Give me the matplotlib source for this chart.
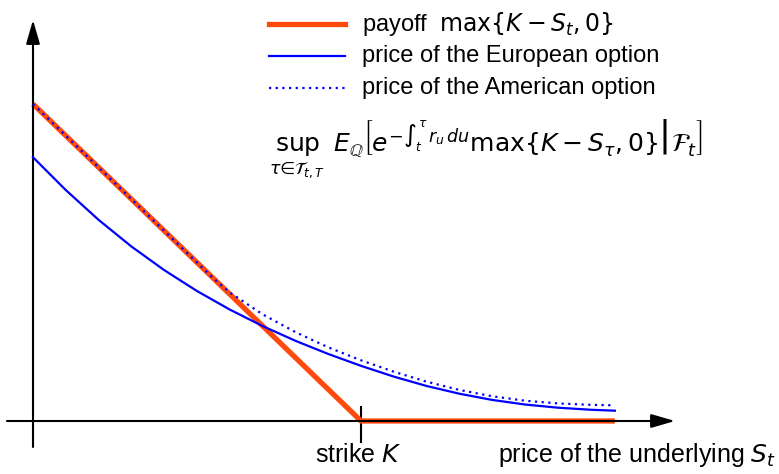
import matplotlib
matplotlib.use("Agg")
import matplotlib.pyplot as plt
from matplotlib.lines import Line2D

plt.rcParams.update(
    {
        "font.family": ["Liberation Sans", "DejaVu Sans"],
        "mathtext.fontset": "dejavusans",
        "font.size": 17,
    }
)

strike = 100.0

# payoff max{K - S, 0}
payoff_s = [0.0, strike, 177.4]
payoff_v = [100.0, 0.0, 0.0]

# European put price
euro_s = [0, 10, 20, 30, 40, 50, 60, 70, 80, 90, 100, 110, 120, 130, 140,
          150, 160, 170, 177.4]
euro_v = [83.2, 72.85, 63.45, 55.05, 47.6, 41.0, 35.15, 29.95, 25.3, 21.15,
          17.4, 14.0, 11.05, 8.6, 6.65, 5.2, 4.2, 3.55, 3.25]

# American put price (equals the payoff below the exercise boundary)
amer_s = [0, 30, 55, 60, 70, 80, 90, 100, 110, 120, 130, 140, 150, 160, 170,
          177.4]
amer_v = [100.0, 70.0, 45.0, 40.55, 33.65, 28.05, 23.25, 19.15, 15.55, 12.4,
          9.8, 7.8, 6.4, 5.55, 5.1, 4.95]

W, H = 779, 474
# pixel layout of the data frame: origin and scale
x0_px, y0_px = 33.0, 421.0
sx, sy = 3.28, 3.17


def fx(px):
    return px / W


def fy(py):
    return 1 - py / H


fig = plt.figure(figsize=(W / 100, H / 100), dpi=100)
ax = fig.add_axes([0, 0, 1, 1])
ax.set_xlim(-x0_px / sx, (W - x0_px) / sx)
ax.set_ylim(-(H - y0_px) / sy, y0_px / sy)
ax.axis("off")

# coordinate axes with arrow heads
arrow = dict(arrowstyle="-|>,head_length=1.45,head_width=0.42", mutation_scale=10,
             lw=1.5, color="black", shrinkA=0, shrinkB=0)
ax.annotate("", xy=((675 - x0_px) / sx, 0), xytext=((7 - x0_px) / sx, 0),
            arrowprops=arrow)
ax.annotate("", xy=(0, (y0_px - 20) / sy), xytext=(0, (y0_px - 447) / sy),
            arrowprops=arrow)
ax.plot([strike, strike], [4.4, -6.6], color="black", lw=1.5)

ax.plot(euro_s, euro_v, color="#0000ff", lw=1.6, zorder=3)
ax.plot(payoff_s, payoff_v, color="#ff4a0d", lw=3.8, solid_capstyle="butt", zorder=2)
ax.plot(amer_s, amer_v, color="#0000ff", lw=1.6, ls=(0, (1, 2)), zorder=4)

# legend drawn by hand
rows = [
    (24, dict(color="#ff4a0d", lw=3.8), r"payoff  $\max\left\{K-S_t,0\right\}$"),
    (56, dict(color="#0000ff", lw=1.6), "price of the European option"),
    (88, dict(color="#0000ff", lw=1.6, ls=(0, (1, 2))), "price of the American option"),
]
for py, style, label in rows:
    fig.add_artist(Line2D([fx(269), fx(345)], [fy(py), fy(py)], **style))
    fig.text(fx(362), fy(py), label, va="center", ha="left")

fig.text(fx(486), fy(149),
         r"$\sup_{\tau\in\mathcal{T}_{t,T}}\ E_{\mathbb{Q}}\left[e^{-\int_t^{\tau}\,r_u\,du}"
         r"\max\left\{K-S_\tau,0\right\}\middle|\mathcal{F}_t\right]$",
         ha="center", va="center", fontsize=18)

fig.text(fx(358), fy(455), "strike $K$", ha="center", va="center", fontsize=18)
fig.text(fx(776), fy(455), "price of the underlying $S_t$", ha="right", va="center",
         fontsize=18)

fig.savefig("out.png", dpi=100)
